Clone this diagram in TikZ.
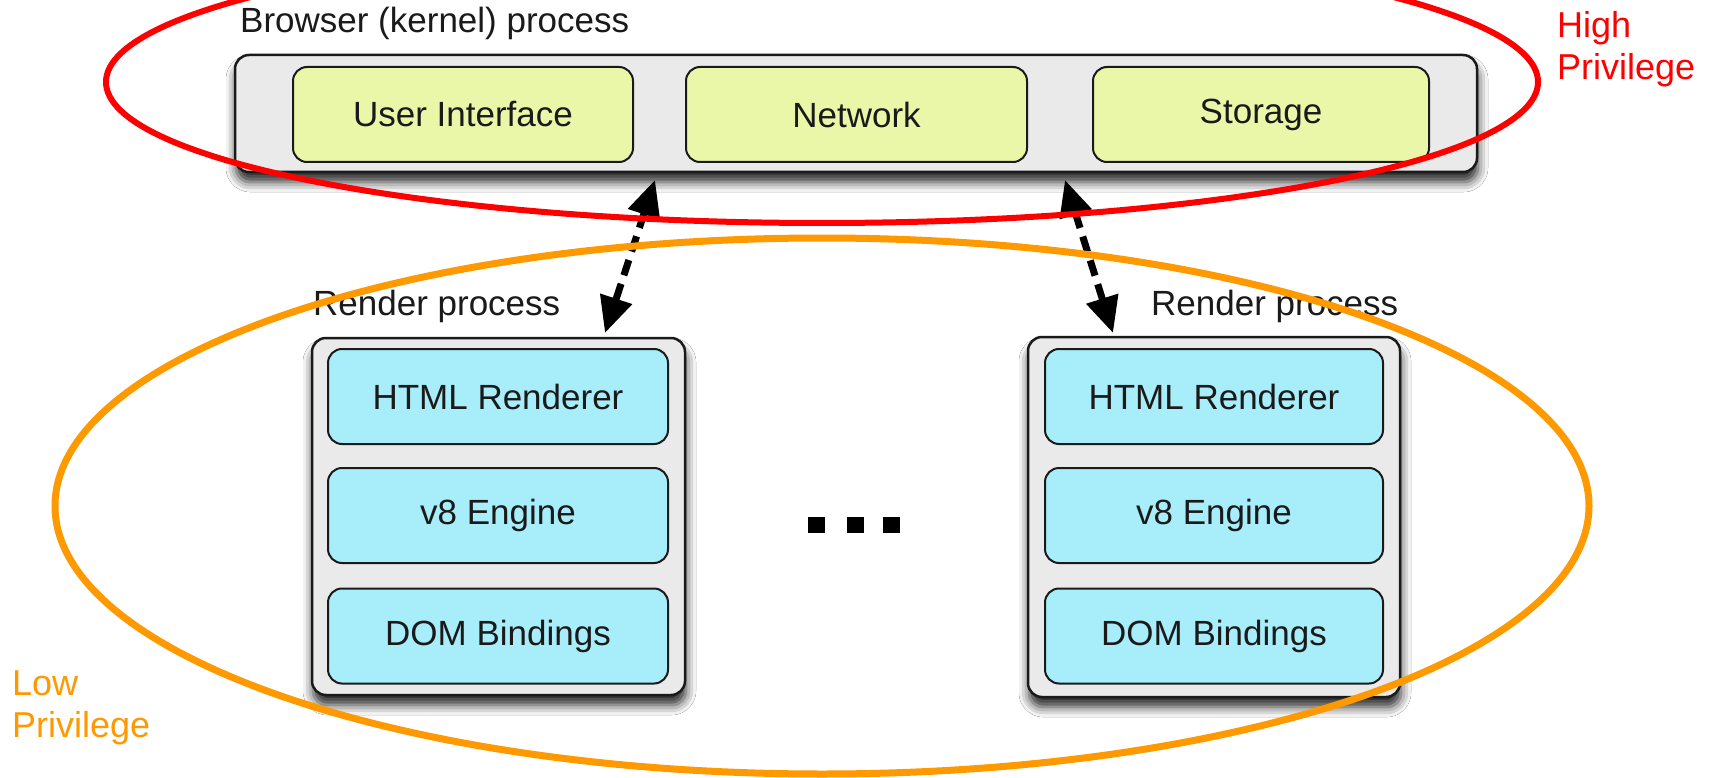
\documentclass[tikz,border=0pt]{standalone}
\usepackage{fontspec}
\setmainfont{Liberation Sans}
\usetikzlibrary{arrows.meta,shadows.blur}
\definecolor{ygreen}{HTML}{EAF6A8}
\definecolor{lcyan}{HTML}{A8EEFA}
\definecolor{pgray}{HTML}{EAEAEA}
\definecolor{hired}{HTML}{FF0000}
\definecolor{loorange}{HTML}{FF9900}
\definecolor{inkc}{HTML}{1A1A1A}
\begin{document}
\begin{tikzpicture}[x=1pt,y=-1pt,
  txt/.style={font=\fontsize{35}{40}\selectfont,text=inkc},
  outerbox/.style={draw=inkc,line width=2.5pt,fill=pgray,rounded corners=14pt,inner sep=0pt,
    blur shadow={shadow xshift=1pt,shadow yshift=-10pt,shadow blur radius=10pt,shadow opacity=85}},
  ybox/.style={draw=inkc,line width=2pt,fill=ygreen,rounded corners=14pt,inner sep=0pt,
    minimum height=95pt,txt},
  cbox/.style={draw=inkc,line width=2pt,fill=lcyan,rounded corners=14pt,inner sep=0pt,
    minimum height=95pt,txt},
  biarrow/.style={line width=7pt,dash pattern=on 16pt off 9pt,
    {Triangle[length=36pt,width=32pt]}-{Triangle[length=36pt,width=32pt]}},
  dotsq/.style={fill=black,minimum width=17pt,minimum height=16pt,inner sep=0pt},
  privlbl/.style={font=\fontsize{36}{42}\selectfont,align=left,anchor=north west,inner sep=0pt}
]
\clip (0,0) rectangle (1713,778);
\fill[white] (0,0) rectangle (1713,778);

% Browser process
\node[txt,anchor=base west,inner sep=0pt] (blabel) at (240,33) {Browser (kernel) process};
\node[outerbox,minimum width=1242pt,minimum height=117pt] (browser) at (856,113.5) {};
\node[ybox,minimum width=340pt] (ui) at (463,114.5) {User Interface};
\node[ybox,minimum width=341pt] (net) at (856.5,114.5) {Network};
\node[ybox,minimum width=336pt] (stor) at (1261,114.5) {Storage};

% Render processes
\node[txt,anchor=base west,inner sep=0pt] (rlabelA) at (313,315) {Render process};
\node[txt,anchor=base west,inner sep=0pt] (rlabelB) at (1151,315) {Render process};

\node[outerbox,minimum width=373pt,minimum height=357pt] (rendA) at (498.5,516.5) {};
\node[cbox,minimum width=340pt] (htmlA) at (498,396.5) {HTML Renderer};
\node[cbox,minimum width=340pt] (v8A) at (498,515.5) {v8 Engine};
\node[cbox,minimum width=340pt] (domA) at (498,636) {DOM Bindings};

\node[outerbox,minimum width=372pt,minimum height=360pt] (rendB) at (1214,517) {};
\node[cbox,minimum width=338pt] (htmlB) at (1214,396.5) {HTML Renderer};
\node[cbox,minimum width=338pt] (v8B) at (1214,515.5) {v8 Engine};
\node[cbox,minimum width=338pt] (domB) at (1214,636) {DOM Bindings};

% dots
\node[dotsq] (d1) at (816.5,525) {};
\node[dotsq] (d2) at (855.5,525) {};
\node[dotsq] (d3) at (891.5,525) {};

% arrows
\coordinate (aAtop) at (655,180);
\coordinate (aAbot) at (605,333);
\coordinate (aBtop) at (1065,180);
\coordinate (aBbot) at (1113,333);
\draw[biarrow] (aAtop) -- (aAbot);
\draw[biarrow] (aBtop) -- (aBbot);

% privilege ellipses
\draw[hired,line width=6pt] (822,82) ellipse [x radius=716, y radius=141];
\draw[loorange,line width=7pt] (822,506) ellipse [x radius=767, y radius=268];

\node[privlbl,text=hired] (hipriv) at (1557,11) {High\\Privilege};
\node[privlbl,text=loorange] (lopriv) at (12,671) {Low\\Privilege};
\end{tikzpicture}
\end{document}
